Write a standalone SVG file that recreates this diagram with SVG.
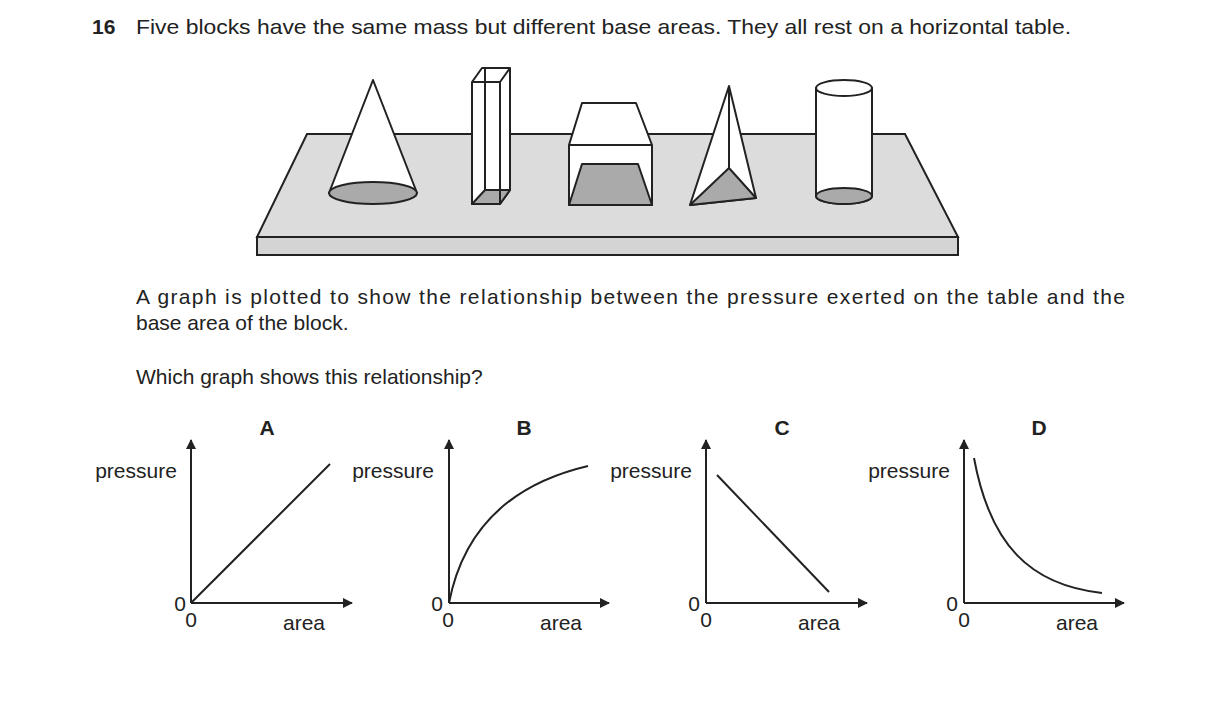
<svg xmlns="http://www.w3.org/2000/svg" width="1216" height="720" viewBox="0 0 1216 720">
<style>
text{font-family:"Liberation Sans",Arial,sans-serif;fill:#222}
.t{font-size:21px}.s{font-size:21px}
.ln{fill:none;stroke:#222;stroke-width:2;stroke-linejoin:round}
.w{fill:#fff;stroke:#222;stroke-width:2;stroke-linejoin:round}
.g{fill:#aaa;stroke:#222;stroke-width:2;stroke-linejoin:round}
.ax{fill:none;stroke:#222;stroke-width:2}
</style>
<defs><marker id="ar" markerWidth="10" markerHeight="10" refX="9" refY="5" orient="auto" markerUnits="userSpaceOnUse"><path d="M0,0 L10,5 L0,10 Z" fill="#222"/></marker></defs>
<rect width="1216" height="720" fill="#fff"/>
<text class="t" x="92" y="34" font-weight="bold">16</text>
<text class="t" x="136" y="34" textLength="935" lengthAdjust="spacingAndGlyphs">Five blocks have the same mass but different base areas. They all rest on a horizontal table.</text>
<g id="table">
<path d="M307,134 L905,134 L958,237 L257,237 Z" fill="#dcdcdc" stroke="#222" stroke-width="2"/>
<rect x="257" y="237" width="701" height="18" fill="#d4d4d4" stroke="#222" stroke-width="2"/>
</g>
<g id="cone">
<path class="w" d="M373,80 L329,193 L417,193 Z"/>
<ellipse class="g" cx="373" cy="193" rx="44" ry="11"/>
</g>
<g id="prism">
<path class="w" d="M472,82 L482,68 L510,68 L510,190 L500,204 L472,204 Z"/>
<path class="g" d="M472,204 L500,204 L510,190 L485,190 Z"/>
<path class="ln" d="M472,82 L500,82 L510,68 M500,82 L500,204 M485,68 L485,190"/>
</g>
<g id="box">
<path class="w" d="M569,145 L582,103 L636,103 L652,145 L652,205 L569,205 Z"/>
<path class="g" d="M569,205 L652,205 L638,164 L582,164 Z"/>
<path class="ln" d="M569,145 L652,145"/>
</g>
<g id="pyramid">
<path class="w" d="M729,86 L690,205 L756,198 Z"/>
<path class="g" d="M690,205 L729,168 L756,198 Z"/>
<path class="ln" d="M729,86 L729,168"/>
</g>
<g id="cylinder">
<path class="w" d="M816,88 L816,196 A28,8 0 0 0 872,196 L872,88 Z"/>
<ellipse class="w" cx="844" cy="88" rx="28" ry="8"/>
<ellipse class="g" cx="844" cy="196" rx="28" ry="8"/>
</g>
<text class="t" x="136" y="304" textLength="989" lengthAdjust="spacing">A graph is plotted to show the relationship between the pressure exerted on the table and the</text>
<text class="t" x="136" y="330">base area of the block.</text>
<text class="t" x="136" y="384">Which graph shows this relationship?</text>
<g id="graphA">
<text class="s" x="267" y="435" font-weight="bold" text-anchor="middle">A</text>
<text class="s" x="136" y="478" text-anchor="middle">pressure</text>
<text class="s" x="180" y="611" text-anchor="middle">0</text>
<text class="s" x="191" y="627" text-anchor="middle">0</text>
<text class="s" x="304" y="630" text-anchor="middle">area</text>
<path class="ax" d="M191,603 L191,440" marker-end="url(#ar)"/>
<path class="ax" d="M191,603 L352,603" marker-end="url(#ar)"/>
<path class="ln" d="M191,603 L330,464"/>
</g>
<g id="graphB">
<text class="s" x="524" y="435" font-weight="bold" text-anchor="middle">B</text>
<text class="s" x="393" y="478" text-anchor="middle">pressure</text>
<text class="s" x="437" y="611" text-anchor="middle">0</text>
<text class="s" x="448" y="627" text-anchor="middle">0</text>
<text class="s" x="561" y="630" text-anchor="middle">area</text>
<path class="ax" d="M449,603 L449,440" marker-end="url(#ar)"/>
<path class="ax" d="M449,603 L609,603" marker-end="url(#ar)"/>
<path class="ln" d="M449,603 C465,520 520,482 588,466"/>
</g>
<g id="graphC">
<text class="s" x="782" y="435" font-weight="bold" text-anchor="middle">C</text>
<text class="s" x="651" y="478" text-anchor="middle">pressure</text>
<text class="s" x="694" y="611" text-anchor="middle">0</text>
<text class="s" x="706" y="627" text-anchor="middle">0</text>
<text class="s" x="819" y="630" text-anchor="middle">area</text>
<path class="ax" d="M706,603 L706,440" marker-end="url(#ar)"/>
<path class="ax" d="M706,603 L867,603" marker-end="url(#ar)"/>
<path class="ln" d="M717,475 L829,592"/>
</g>
<g id="graphD">
<text class="s" x="1039" y="435" font-weight="bold" text-anchor="middle">D</text>
<text class="s" x="909" y="478" text-anchor="middle">pressure</text>
<text class="s" x="952" y="611" text-anchor="middle">0</text>
<text class="s" x="964" y="627" text-anchor="middle">0</text>
<text class="s" x="1077" y="630" text-anchor="middle">area</text>
<path class="ax" d="M964,603 L964,440" marker-end="url(#ar)"/>
<path class="ax" d="M964,603 L1124,603" marker-end="url(#ar)"/>
<path class="ln" d="M974,458 C990,545 1030,585 1102,593"/>
</g>
</svg>
